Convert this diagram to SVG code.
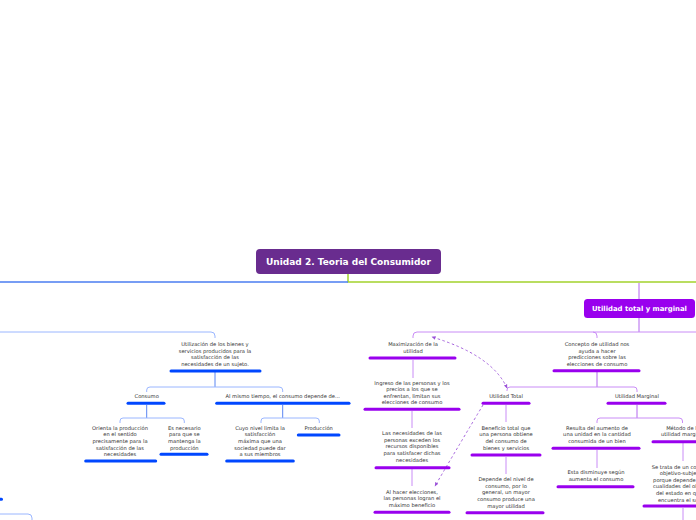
<svg xmlns="http://www.w3.org/2000/svg" width="696" height="520" viewBox="0 0 696 520">
<defs>
<style>
.t{font-family:"DejaVu Sans",Verdana,sans-serif;font-size:5.2px;fill:#333;text-anchor:middle}
.tb{font-family:"DejaVu Sans",Verdana,sans-serif;font-weight:bold;fill:#fff;text-anchor:middle}
.bb{stroke:#0047ff;stroke-width:3;stroke-linecap:round;fill:none}
.bp{stroke:#9900ee;stroke-width:3;stroke-linecap:round;fill:none}
.lb{stroke:#9ab6ff;stroke-width:1;fill:none}
.lbm{stroke:#5b86f2;stroke-width:1;fill:none}
.lp{stroke:#c98cf6;stroke-width:1;fill:none}
.lpm{stroke:#b366ee;stroke-width:1;fill:none}
.dash{stroke:#9b52d8;stroke-width:0.9;stroke-dasharray:2.5 2.5;fill:none}
</style>
<marker id="ah" viewBox="0 0 10 10" refX="8" refY="5" markerWidth="5" markerHeight="5" orient="auto-start-reverse">
<path d="M0,1 L9,5 L0,9 z" fill="#9b52d8"/>
</marker>
</defs>
<rect width="696" height="520" fill="#fff"/>
<g id="connectors">
<path d="M348 274 V282 H696" stroke="#a3d22c" stroke-width="1.5" fill="none"/>
<path d="M0 282 H348" stroke="#4a7cf0" stroke-width="1.5" fill="none"/>
<path d="M639 283 V299" class="lpm"/>
<path d="M639 318 V332" class="lpm"/>
<path d="M696 332 H417 Q413 332 413 336 V338" class="lp"/>
<path d="M593 332 Q597 332 597 336 V338" class="lp"/>
<path d="M0 332 H211 Q215 332 215 336 V338" class="lb"/>
<path d="M0 514 H28 Q32 514 32 518 V520" class="lb"/>
<path d="M215 372 V387" class="lbm"/>
<path d="M146.7 392 V390 Q146.7 387 150 387 H279 Q282.7 387 282.7 390 V392" class="lb"/>
<path d="M146.7 405 V418" class="lbm"/>
<path d="M120 423 V421 Q120 418 123 418 H181 Q184.3 418 184.3 421 V423" class="lb"/>
<path d="M282.7 405 V418" class="lbm"/>
<path d="M261 423 V421 Q261 418 264 418 H316 Q319.3 418 319.3 421 V423" class="lb"/>
<path d="M413 360 V378" class="lp"/>
<path d="M412 411 V428" class="lp"/>
<path d="M412 469 V486" class="lp"/>
<path d="M597 372 V387" class="lpm"/>
<path d="M507 391 V390 Q507 387 510 387 H634 Q637 387 637 390 V392" class="lp"/>
<path d="M506 405 V422" class="lp"/>
<path d="M506 457 V474" class="lp"/>
<path d="M637 405 V418" class="lpm"/>
<path d="M597 423 V421 Q597 418 600 418 H679 Q682.5 418 682.5 421 V423" class="lp"/>
<path d="M597 450 V468" class="lp"/>
<path d="M683 443 V461" class="lp"/>
<path d="M683 508 V520" class="lp"/>
<path d="M507 388 Q492 355 432 337" class="dash" marker-start="url(#ah)" marker-end="url(#ah)"/>
<path d="M483 405 Q462 440 435 486" class="dash" marker-end="url(#ah)"/>
</g>
<g id="root">
<rect x="256" y="249" width="185" height="25" rx="4" fill="#692c8f"/>
<text class="tb" x="348.5" y="265" font-size="9">Unidad 2. Teoria del Consumidor</text>
</g>
<g id="utilidad-total-marginal">
<rect x="584" y="299" width="111" height="19" rx="3.5" fill="#9900ee"/>
<text class="tb" x="639.5" y="311.3" font-size="6.9">Utilidad total y marginal</text>
</g>
<g id="utilizacion">
<text class="t" x="215"><tspan x="215" y="345.8">Utilización de los bienes y</tspan><tspan x="215" y="352.5">servicios producidos para la</tspan><tspan x="215" y="359.1">satisfacción de las</tspan><tspan x="215" y="365.8">necesidades de un sujeto.</tspan></text>
<path d="M171 371 H260" class="bb"/>
</g>
<g id="consumo">
<text class="t" x="146.7" y="397.8">Consumo</text>
<path d="M128 403.3 H164" class="bb"/>
</g>
<g id="al-mismo-tiempo">
<text class="t" x="282.7" y="397.8">Al mismo tiempo, el consumo depende de...</text>
<path d="M216.7 403.3 H349" class="bb"/>
</g>
<g id="orienta">
<text class="t"><tspan x="120" y="429.5">Orienta la producción</tspan><tspan x="120" y="436.2">en el sentido</tspan><tspan x="120" y="442.9">precisamente para la</tspan><tspan x="120" y="449.6">satisfacción de las</tspan><tspan x="120" y="456.3">necesidades</tspan></text>
<path d="M85.7 461 H155.7" class="bb"/>
</g>
<g id="es-necesario">
<text class="t"><tspan x="184.3" y="429.5">Es necesario</tspan><tspan x="184.3" y="436.2">para que se</tspan><tspan x="184.3" y="442.9">mantenga la</tspan><tspan x="184.3" y="449.6">producción</tspan></text>
<path d="M161 454.3 H207" class="bb"/>
</g>
<g id="cuyo-nivel">
<text class="t"><tspan x="260" y="429.5">Cuyo nivel limita la</tspan><tspan x="260" y="436.2">satisfacción</tspan><tspan x="260" y="442.9">máxima que una</tspan><tspan x="260" y="449.6">sociedad puede dar</tspan><tspan x="260" y="456.3">a sus miembros</tspan></text>
<path d="M226.7 461 H293.3" class="bb"/>
</g>
<g id="produccion">
<text class="t" x="318.7" y="429.5">Producción</text>
<path d="M298.3 435 H339" class="bb"/>
</g>
<g id="left-offscreen">
<path d="M-5 499.3 H1.5" class="bb"/>
</g>
<g id="maximizacion">
<text class="t"><tspan x="413" y="345.8">Maximización de la</tspan><tspan x="413" y="352.5">utilidad</tspan></text>
<path d="M370 358 H455" class="bp"/>
</g>
<g id="ingreso">
<text class="t"><tspan x="412" y="385.1">Ingreso de las personas y los</tspan><tspan x="412" y="391.4">precios a los que se</tspan><tspan x="412" y="397.8">enfrentan, limitan sus</tspan><tspan x="412" y="404.1">elecciones de consumo</tspan></text>
<path d="M365 409.3 H459" class="bp"/>
</g>
<g id="necesidades">
<text class="t"><tspan x="412" y="434.8">Las necesidades de las</tspan><tspan x="412" y="441.5">personas exceden los</tspan><tspan x="412" y="448.2">recursos disponibles</tspan><tspan x="412" y="454.9">para satisfacer dichas</tspan><tspan x="412" y="461.6">necesidades</tspan></text>
<path d="M376 467.7 H449" class="bp"/>
</g>
<g id="al-hacer">
<text class="t"><tspan x="412" y="493.5">Al hacer elecciones,</tspan><tspan x="412" y="500.2">las personas logran el</tspan><tspan x="412" y="506.9">máximo beneficio</tspan></text>
<path d="M375 512.3 H449" class="bp"/>
</g>
<g id="concepto">
<text class="t"><tspan x="597" y="345.8">Concepto de utilidad nos</tspan><tspan x="597" y="352.5">ayuda a hacer</tspan><tspan x="597" y="359.1">predicciones sobre las</tspan><tspan x="597" y="365.8">elecciones de consumo</tspan></text>
<path d="M554 370.7 H639" class="bp"/>
</g>
<g id="utilidad-total">
<text class="t" x="506" y="397.8">Utilidad Total</text>
<path d="M483 403.3 H529" class="bp"/>
</g>
<g id="beneficio">
<text class="t"><tspan x="506" y="429.5">Beneficio total que</tspan><tspan x="506" y="436.2">una persona obtiene</tspan><tspan x="506" y="442.9">del consumo de</tspan><tspan x="506" y="449.6">bienes y servicios</tspan></text>
<path d="M472 455 H540" class="bp"/>
</g>
<g id="depende">
<text class="t"><tspan x="506" y="480.8">Depende del nivel de</tspan><tspan x="506" y="487.5">consumo, por lo</tspan><tspan x="506" y="494.2">general, un mayor</tspan><tspan x="506" y="500.9">consumo produce una</tspan><tspan x="506" y="507.6">mayor utilidad</tspan></text>
<path d="M467 512.7 H543" class="bp"/>
</g>
<g id="utilidad-marginal">
<text class="t" x="637" y="397.8">Utilidad Marginal</text>
<path d="M608 403.3 H665" class="bp"/>
</g>
<g id="resulta">
<text class="t"><tspan x="597" y="429.5">Resulta del aumento de</tspan><tspan x="597" y="436.2">una unidad en la cantidad</tspan><tspan x="597" y="442.9">consumida de un bien</tspan></text>
<path d="M553 448.3 H639" class="bp"/>
</g>
<g id="esta-disminuye">
<text class="t"><tspan x="596" y="474.1">Esta disminuye según</tspan><tspan x="596" y="480.8">aumenta el consumo</tspan></text>
<path d="M558 486.7 H633" class="bp"/>
</g>
<g id="metodo">
<text class="t"><tspan x="683" y="429.5">Método de la</tspan><tspan x="683" y="436.2">utilidad marginal</tspan></text>
<path d="M653 441.7 H713" class="bp"/>
</g>
<g id="se-trata">
<text class="t"><tspan x="683" y="468.5">Se trata de un concepto</tspan><tspan x="683" y="475.1">objetivo-subjetivo</tspan><tspan x="683" y="481.7">porque depende de las</tspan><tspan x="683" y="488.3">cualidades del objeto y</tspan><tspan x="683" y="494.9">del estado en que se</tspan><tspan x="683" y="501.5">encuentra el sujeto</tspan></text>
<path d="M644 506 H722" class="bp"/>
</g>
</svg>
